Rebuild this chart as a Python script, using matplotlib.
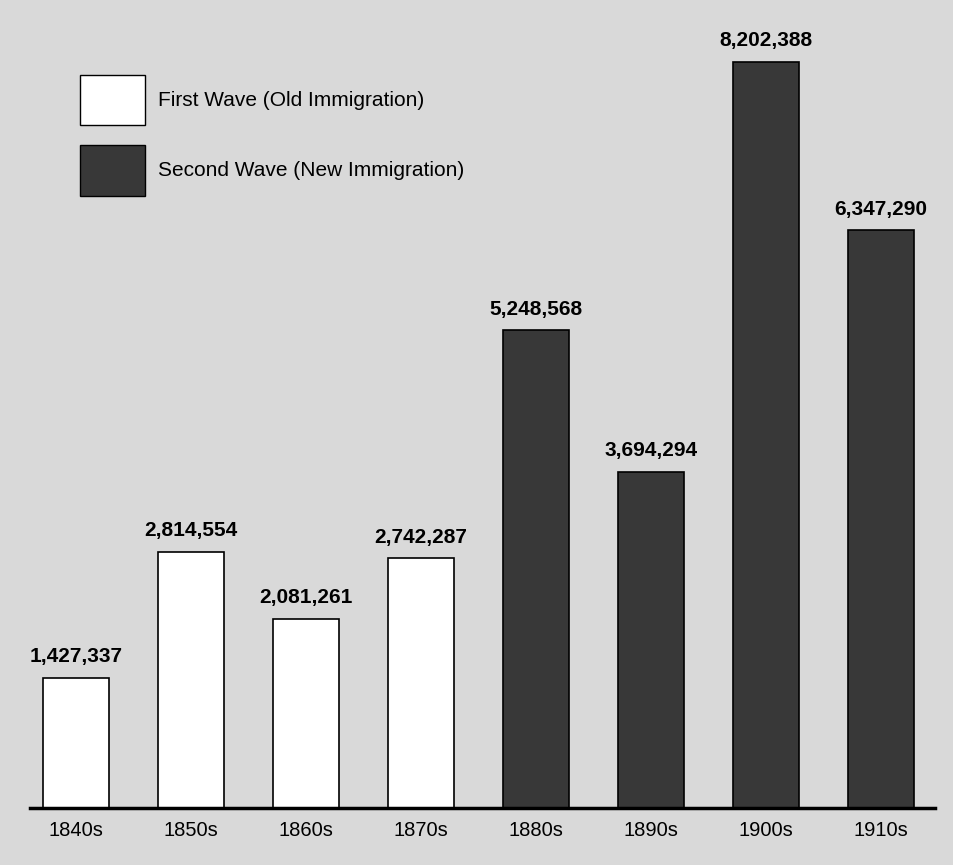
import matplotlib.pyplot as plt
from matplotlib.patches import Patch

plt.rcParams['font.family'] = ['Liberation Sans', 'DejaVu Sans']

# Immigration per decade
decades = ['1840s', '1850s', '1860s', '1870s', '1880s', '1890s', '1900s', '1910s']
immigrants = [1427337, 2814554, 2081261, 2742287, 5248568, 3694294, 8202388, 6347290]
wave = ['first', 'first', 'first', 'first', 'second', 'second', 'second', 'second']

bg = '#d9d9d9'
dark = '#383838'

fig = plt.figure(figsize=(9.54, 8.65), dpi=100, facecolor=bg)
ax = fig.add_axes([30 / 954, 57 / 865, 905 / 954, 808 / 865])
ax.set_facecolor(bg)

colors = ['white' if w == 'first' else dark for w in wave]
x = range(len(decades))
bars = ax.bar(x, immigrants, width=0.57, color=colors, edgecolor='black', linewidth=1.2)

for b, v in zip(bars, immigrants):
    ax.text(b.get_x() + b.get_width() / 2, v + 130000, f'{v:,}',
            ha='center', va='bottom', fontsize=15, fontweight='bold')

ax.set_xlim(-0.4, 7.47)
ax.set_ylim(0, 8.88e6)
ax.set_xticks(list(x))
ax.set_xticklabels(decades, fontsize=14.5)
ax.tick_params(axis='x', length=0, pad=9)
ax.set_yticks([])
for s in ['top', 'right', 'left']:
    ax.spines[s].set_visible(False)
ax.spines['bottom'].set_linewidth(2.5)

handles = [Patch(facecolor='white', edgecolor='black', label='First Wave (Old Immigration)'),
           Patch(facecolor=dark, edgecolor='black', label='Second Wave (New Immigration)')]
ax.legend(handles=handles, loc='upper left', bbox_to_anchor=(0.0552, 0.907),
          frameon=False, fontsize=15, handlelength=3.12, handleheight=3.33,
          labelspacing=0.96, handletextpad=0.62, borderpad=0, borderaxespad=0)

plt.savefig('out.png', dpi=100, facecolor=bg)
